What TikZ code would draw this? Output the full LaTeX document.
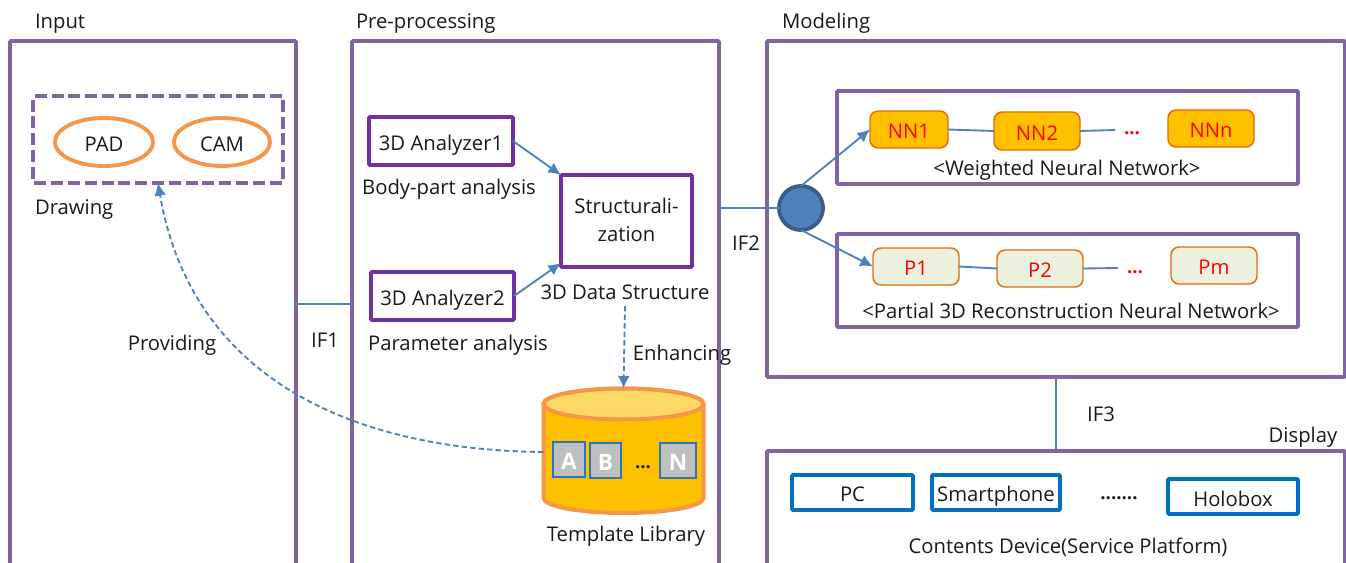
\documentclass[tikz,border=0pt]{standalone}
\usepackage{fontspec}
\setmainfont{Open Sans}
\usetikzlibrary{arrows.meta,shapes.geometric}
\definecolor{framepurple}{HTML}{8064A2}
\definecolor{deeppurple}{HTML}{7030A0}
\definecolor{softorange}{HTML}{F79646}
\definecolor{deeporange}{HTML}{E36C09}
\definecolor{linkblue}{HTML}{4F81BD}
\definecolor{circleedge}{HTML}{385D8A}
\definecolor{devblue}{HTML}{0070C0}
\definecolor{gold}{HTML}{FFC000}
\definecolor{lightgold}{HTML}{FFD966}
\definecolor{palegreen}{HTML}{EBF1DE}
\definecolor{tilegray}{HTML}{BFBFBF}
\definecolor{tileedge}{HTML}{2E75B6}
\newcommand{\bx}[7]{%
  \pgfmathsetmacro{\cxv}{(#4+#6)/2}\pgfmathsetmacro{\cyv}{(#5+#7)/2}%
  \pgfmathsetmacro{\wv}{(#6-#4)*0.75}\pgfmathsetmacro{\hv}{(#7-#5)*0.75}%
  \node[#2,minimum width=\wv pt,minimum height=\hv pt] (#1) at (\cxv,\cyv) {\raisebox{-1.5pt}[\height][\depth]{#3}};}
\newcommand{\dropt}[1]{\raisebox{-1.6pt}[\height][\depth]{#1}}
\tikzset{
  x=0.75pt,y=-0.75pt,
  every node/.style={inner sep=0pt,outer sep=0pt,font=\fontsize{15.2pt}{18pt}\selectfont,text=black!90},
  frame/.style={draw=framepurple,line width=2.9pt,rounded corners=0.8pt},
  dashframe/.style={draw=framepurple,line width=2.9pt,dash pattern=on 9pt off 3.6pt,rounded corners=0.8pt},
  oval/.style={draw=softorange,line width=2.9pt,shape=ellipse},
  analyzer/.style={draw=deeppurple,line width=2.9pt,rounded corners=0.8pt},
  device/.style={draw=devblue,line width=2.9pt,rounded corners=0.8pt},
  nnbox/.style={draw=deeporange,line width=1.1pt,fill=gold,rounded corners=6pt,text=red},
  pbox/.style={draw=deeporange,line width=1.1pt,fill=palegreen,rounded corners=6pt,text=red},
  tile/.style={draw=tileedge,line width=0.8pt,fill=tilegray,text=white,font=\fontsize{17pt}{19pt}\selectfont\bfseries},
  link/.style={draw=linkblue,line width=1.4pt},
  linkarrow/.style={link,-{Latex[length=9.5pt,width=9pt]}},
  dasharrow/.style={link,dash pattern=on 4pt off 2.4pt,-{Latex[length=9.5pt,width=9pt]}},
  reddots/.style={text=red,font=\fontsize{14pt}{16pt}\selectfont\bfseries},
}
\begin{document}
\begin{tikzpicture}
\useasboundingbox (0,0) rectangle (1346,563);
\clip (0,0) rectangle (1346,563);
% frames
\bx{inputf}{frame}{}{10}{41}{296}{640}
\bx{pref}{frame}{}{352}{41}{719}{640}
\bx{modelf}{frame}{}{767}{41}{1345}{377}
\bx{dispf}{frame}{}{767}{451}{1345}{640}
% titles
\node[anchor=west] (tinput) at (35,24) {Input};
\node[anchor=west] (tpre) at (356,23) {Pre-processing};
\node[anchor=west] (tmodel) at (782,23) {Modeling};
\node (tdisp) at (1303,437) {Display};
% input
\bx{drawf}{dashframe}{}{33}{96}{283}{183}
\bx{pad}{oval}{PAD}{55}{118}{153}{166}
\bx{cam}{oval}{CAM}{174}{118}{270}{166}
\node[anchor=west] (tdraw) at (35,209) {Drawing};
\node (tprov) at (172,345) {Providing};
\node (tif1) at (325,340) {IF1};
\node (tif2) at (746,243) {IF2};
\node (tif3) at (1101,414) {IF3};
% preprocessing
\bx{an1}{analyzer}{\dropt{3D Analyzer1}}{369}{117}{513}{165}
\bx{an2}{analyzer}{\dropt{3D Analyzer2}}{371}{272}{514}{320}
\bx{struct}{analyzer}{\begin{tabular}{@{}c@{}}Structurali-\\[3pt]zation\end{tabular}}{561}{175}{692}{267}
\node (tbody) at (449,189) {Body-part analysis};
\node (tparam) at (458,345) {Parameter analysis};
\node (tds) at (625,292) {3D Data Structure};
\node (tenh) at (682,355) {Enhancing};
% cylinder
\path[fill=gold,draw=softorange,line width=3pt]
  (543.5,404) -- (543.5,498) arc[start angle=180,end angle=0,x radius=80,y radius=15] -- (703.5,404)
  arc[start angle=0,end angle=-180,x radius=80,y radius=15.5] -- cycle;
\path[fill=lightgold,draw=softorange,line width=3pt]
  (623.5,404) ellipse[x radius=80,y radius=15.5];
\coordinate (libtop) at (623.5,388.5);
\coordinate (libleft) at (543.5,452);
\bx{ta}{tile}{A}{553}{442}{585}{477}
\bx{tb}{tile}{B}{590}{443}{621}{478}
\bx{tn}{tile}{N}{660}{443}{696}{478}
\node[font=\fontsize{14pt}{16pt}\selectfont\bfseries] (tdots) at (643,467) {...};
\node (tlib) at (626,536) {Template Library};
% modeling
\bx{wbox}{frame}{}{837}{91}{1298}{184}
\bx{pbx}{frame}{}{837}{234}{1298}{327}
\bx{nn1}{nnbox}{NN1}{870}{111}{948}{148}
\bx{nn2}{nnbox}{NN2}{994}{112}{1080}{150}
\bx{nnn}{nnbox}{NNn}{1168}{110}{1254}{147}
\bx{p1}{pbox}{P1}{873}{248}{959}{285}
\bx{p2}{pbox}{P2}{997}{250}{1083}{287}
\bx{pm}{pbox}{Pm}{1171}{247}{1257}{284}
\node[reddots] (d1) at (1132,133) {...};
\node[reddots] (d2) at (1135,272) {...};
\node (twnn) at (1067,170) {<Weighted Neural Network>};
\node (tpnn) at (1071,311) {<Partial 3D Reconstruction Neural Network>};
\node[draw=circleedge,line width=2.9pt,fill=linkblue,circle,minimum size=33pt] (hub) at (801,208) {};
% display
\bx{pc}{device}{PC}{792}{475}{913}{510}
\bx{phone}{device}{\dropt{Smartphone}}{932}{475}{1060}{510}
\bx{holo}{device}{Holobox}{1168}{479}{1298}{514}
\node[font=\fontsize{14pt}{16pt}\selectfont\bfseries] (ddots) at (1119,498) {.......};
\node (tcont) at (1068,547) {Contents Device(Service Platform)};
% connectors
\coordinate (yif1) at (0,304);
\coordinate (xif3) at (1056,0);
\coordinate (d1end) at (1115,130);
\coordinate (d2end) at (1118,268);
\coordinate (xprov) at (158,0);
\draw[link] (inputf.east|-yif1) -- (pref.west|-yif1);
\draw[link] (pref.east|-hub) -- (hub.west);
\draw[link] (xif3|-modelf.south) -- (xif3|-dispf.north);
\draw[linkarrow] (an1.east) -- (struct.north west);
\draw[linkarrow] (an2.east) -- ([yshift=3pt]struct.south west);
\draw[dasharrow] ([yshift=-5pt]tds.south) -- (libtop);
\draw[dasharrow] (libleft) .. controls (340,450) and (190,370) .. (drawf.south-|xprov);
\draw[linkarrow] (hub.north) -- (nn1.west);
\draw[linkarrow] (hub.south) -- (p1.west);
\draw[link] (nn1.east) -- (nn2.west);
\draw[link] (nn2.east) -- (d1end);
\draw[link] (p1.east) -- (p2.west);
\draw[link] (p2.east) -- (d2end);
\end{tikzpicture}
\end{document}
